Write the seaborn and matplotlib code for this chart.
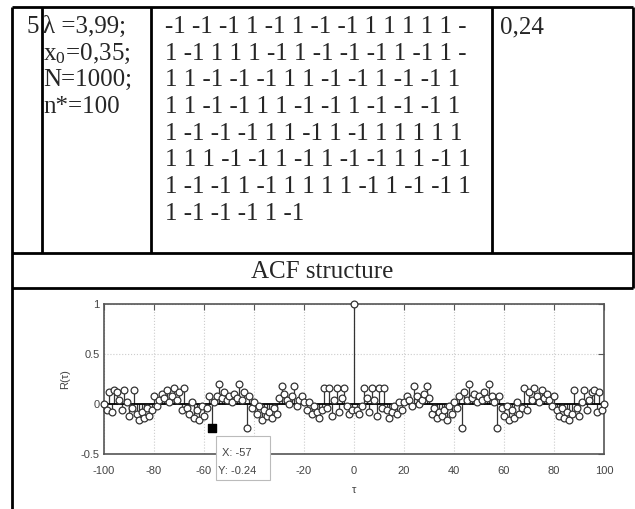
import numpy as np
import pandas as pd
import matplotlib
matplotlib.use("Agg")
import matplotlib.pyplot as plt
import seaborn as sns

# table contents
row_number = "5"
params = ["λ =3,99;", r"x$_\mathregular{0}$=0,35;", "N=1000;", "n*=100"]
sequence_lines = [
    "-1 -1 -1 1 -1 1 -1 -1 1 1 1 1 1 -",
    "1 -1 1 1 1 -1 1 -1 -1 -1 1 -1 1 -",
    "1 1 -1 -1 -1 1 1 -1 -1 1 -1 -1 1",
    "1 1 -1 -1 1 1 -1 -1 1 -1 -1 -1 1",
    "1 -1 -1 -1 1 1 -1 1 -1 1 1 1 1 1",
    "1 1 1 -1 -1 1 -1 1 -1 -1 1 1 -1 1",
    "1 -1 -1 1 -1 1 1 1 1 -1 1 -1 -1 1",
    "1 -1 -1 -1 1 -1",
]
side_lobe = "0,24"
caption = "ACF structure"

# ACF, lags 1..100 (the plot is mirrored about zero)
acf_pos = [
    -0.06, -0.10, -0.02, 0.16, 0.06, -0.08, 0.16, 0.04, -0.12, 0.16,
    -0.04, 0.16, -0.06, -0.14, -0.08, -0.02, -0.10, 0.02, -0.06, 0.02,
    0.08, 0.04, -0.02, 0.18, 0.08, 0.00, 0.04, 0.10, 0.18, 0.06,
    -0.10, -0.04, -0.14, -0.08, -0.12, -0.06, -0.16, -0.02, -0.10, 0.02,
    -0.04, 0.08, -0.24, 0.12, 0.04, 0.20, 0.06, 0.10, 0.02, 0.08,
    0.04, 0.12, 0.06, 0.20, 0.08, 0.02, -0.24, 0.08, -0.04, -0.12,
    -0.02, -0.16, -0.06, -0.14, 0.02, -0.10, -0.04, 0.16, -0.06, 0.12,
    0.04, 0.16, 0.08, 0.02, 0.14, 0.06, 0.10, 0.04, -0.02, 0.08,
    -0.06, -0.12, -0.04, -0.14, -0.08, -0.16, -0.10, 0.14, -0.04, -0.12,
    0.02, 0.14, -0.06, 0.04, 0.12, 0.14, -0.08, 0.12, -0.06, 0.00,
]
acf_zero = 1.0
tip_lag = -57
tip_value = -0.24
x_ticks = [-100, -80, -60, -40, -20, 0, 20, 40, 60, 80, 100]
x_tick_labels = ["-100", "-80", "-60", "", "-20", "0", "20", "40", "60", "80", "100"]
y_ticks = [-0.5, 0, 0.5, 1]
y_tick_labels = ["-0.5", "0", "0.5", "1"]

lags = np.arange(-100, 101)
values = np.concatenate([acf_pos[::-1], [acf_zero], acf_pos])
df = pd.DataFrame({"lag": lags, "R": values})

sns.set_style("white")
plt.rcParams["font.family"] = ["Liberation Serif", "DejaVu Serif"]
plt.rcParams["mathtext.fontset"] = "stix"

W, H = 635, 509
fig = plt.figure(figsize=(W / 100, H / 100), dpi=100)

# ---- table drawn in pixel coordinates ----
bg = fig.add_axes([0, 0, 1, 1])
bg.set_xlim(0, W)
bg.set_ylim(H, 0)
bg.axis("off")

lw = 2.0
bg.hlines([7, 253, 288], 12, 633, color="black", lw=lw)
bg.vlines([42, 151, 492], 7, 253, color="black", lw=lw)
bg.vlines(633, 7, 288, color="black", lw=lw)
bg.vlines(12, 7, H, color="black", lw=lw)

fs = 18
line_h = 26.7
base = 33
bg.text(39, base, row_number, fontsize=fs, ha="right", va="baseline")
for i, t in enumerate(params):
    bg.text(43, base + i * line_h, t, fontsize=fs, ha="left", va="baseline")
for i, t in enumerate(sequence_lines):
    bg.text(165, base + i * line_h, t, fontsize=fs, ha="left", va="baseline")
bg.text(500, base, side_lobe, fontsize=fs, ha="left", va="baseline")
bg.text(322, 278, caption, fontsize=fs, ha="center", va="baseline")

# ---- ACF stem plot ----
ax = fig.add_axes([104 / W, 1 - 454 / H, 500 / W, 150 / H])
gray = "#555555"
ax.vlines(df["lag"], 0, df["R"], color="#333333", lw=0.9)
ax.axhline(0, color="black", lw=1.3)
sns.scatterplot(data=df, x="lag", y="R", ax=ax, marker="o", s=24,
                facecolor="white", edgecolor="#333333", linewidth=0.9,
                clip_on=False, zorder=3, legend=False)
ax.scatter([tip_lag], [tip_value], marker="s", s=36, color="black", zorder=5)

ax.set_xlim(-100, 100)
ax.set_ylim(-0.5, 1)
ax.set_xticks(x_ticks)
ax.set_yticks(y_ticks)
ax.set_xticklabels(x_tick_labels)
ax.set_yticklabels(y_tick_labels)
ax.grid(True, color="#cccccc", ls=":", lw=0.8)
ax.tick_params(direction="in", length=4, color=gray, top=True, right=True,
               labelsize=8, labelcolor="#444444")
ax.tick_params(axis="x", pad=9)
ax.tick_params(axis="y", pad=3)
for lbl in ax.get_xticklabels() + ax.get_yticklabels():
    lbl.set_family("Liberation Sans")
for s in ax.spines.values():
    s.set_color(gray)
    s.set_linewidth(1.2)
ax.set_xlabel("τ", fontsize=8, color="#444444", family="Liberation Sans", labelpad=6)
ax.set_ylabel("R(τ)", fontsize=8, color="#444444", family="Liberation Sans", labelpad=8)

# data tip box
bg.add_patch(plt.Rectangle((216, 436), 54, 44, facecolor="white",
                           edgecolor="#bbbbbb", lw=0.8, zorder=10))
bg.text(222, 456, f"X: {tip_lag}", fontsize=8, family="Liberation Sans",
        color="#444444", zorder=11)
bg.text(218, 474, f"Y: {tip_value}", fontsize=8, family="Liberation Sans",
        color="#444444", zorder=11)
bg.set_zorder(ax.get_zorder() + 1)
bg.patch.set_alpha(0)

fig.savefig("out.png", dpi=100)
